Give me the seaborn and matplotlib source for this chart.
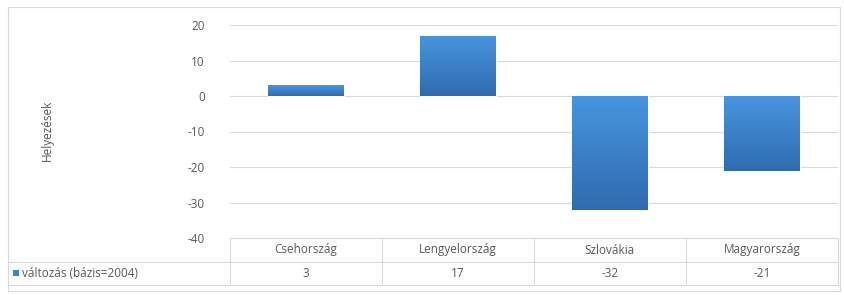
import matplotlib
matplotlib.use("Agg")
import matplotlib.pyplot as plt
import matplotlib.transforms as mtransforms
from matplotlib.patches import Rectangle
from matplotlib.colors import LinearSegmentedColormap
import numpy as np
import seaborn as sns
import pandas as pd

categories = ["Csehország", "Lengyelország", "Szlovákia", "Magyarország"]
values = [3, 17, -32, -21]
series_name = "változás (bázis=2004)"
y_label = "Helyezések"
y_ticks = [20, 10, 0, -10, -20, -30, -40]

sns.set_theme(style="white")
plt.rcParams["font.family"] = ["Open Sans", "DejaVu Sans"]

TEXT = "#595959"
GRID = "#d9d9d9"
BAR = "#3b84cf"
grad = LinearSegmentedColormap.from_list("g", ["#2f6caf", "#4795de"])

fig = plt.figure(figsize=(8.45, 2.95), dpi=100)
W, H = 845, 295
fig.patches.append(Rectangle((8 / W, 4 / H), 832 / W, 284 / H, transform=fig.transFigure,
                             fill=False, edgecolor="#d9d9d9", linewidth=0.8))

ax = fig.add_axes([230 / W, 1 - 238 / H, 608 / W, 213 / H])
df = pd.DataFrame({"cat": categories, "val": values})
sns.barplot(data=df, x="cat", y="val", color=BAR, width=0.5, ax=ax, saturation=1)
ax.set_ylim(-40, 20)
ax.set_xlim(-0.5, 3.5)

# vertical gradient fill on each bar
for p in ax.patches:
    x0, y0 = p.get_x(), p.get_y()
    w, h = p.get_width(), p.get_height()
    ylo, yhi = min(y0, y0 + h), max(y0, y0 + h)
    img = ax.imshow(np.linspace(0, 1, 64).reshape(-1, 1), cmap=grad, aspect="auto",
                    extent=[x0, x0 + w, ylo, yhi], origin="lower", zorder=p.get_zorder() + 0.1)
    img.set_clip_path(p)
ax.set_ylim(-40, 20)
ax.set_xlim(-0.5, 3.5)

ax.set_yticks(y_ticks)
ax.set_yticklabels([str(t) for t in y_ticks], color=TEXT, fontsize=8.5)
ax.tick_params(axis="y", length=0, pad=18)
ax.set_xticks([])
ax.set_xlabel("")
ax.set_ylabel("")
ax.yaxis.grid(True, color=GRID, linewidth=0.8)
ax.set_axisbelow(True)
for s in ["top", "right", "left", "bottom"]:
    ax.spines[s].set_visible(False)

fig.text(47 / W, 1 - 130 / H, y_label, rotation=90, ha="center", va="center",
         color=TEXT, fontsize=8.5)

# data table
tr = mtransforms.blended_transform_factory(ax.transData, fig.transFigure)
y_top, y_mid, y_bot = 1 - 238 / H, 1 - 262 / H, 1 - 285 / H
for i in range(len(categories) + 1):
    x = i - 0.5
    ax.plot([x, x], [y_top, y_bot], transform=tr, color=GRID, lw=0.8, clip_on=False)
ax.plot([-0.5, 3.5], [y_top, y_top], transform=tr, color=GRID, lw=0.8, clip_on=False)
fig.lines.append(plt.Line2D([8 / W, 838 / W], [y_mid, y_mid], transform=fig.transFigure,
                            color=GRID, lw=0.8))
fig.lines.append(plt.Line2D([8 / W, 838 / W], [y_bot, y_bot], transform=fig.transFigure,
                            color=GRID, lw=0.8))
for i, (c, v) in enumerate(zip(categories, values)):
    ax.text(i, (y_top + y_mid) / 2, c, transform=tr, ha="center", va="center",
            color=TEXT, fontsize=8.5)
    ax.text(i, (y_mid + y_bot) / 2, str(v), transform=tr, ha="center", va="center",
            color=TEXT, fontsize=8.5)
fig.patches.append(Rectangle((13 / W, 1 - 276 / H), 6 / W, 6 / H, transform=fig.transFigure,
                             facecolor=BAR, edgecolor="none"))
fig.text(22 / W, (y_mid + y_bot) / 2, series_name, ha="left", va="center",
         color=TEXT, fontsize=8.5)

fig.savefig("out.png", dpi=100)
